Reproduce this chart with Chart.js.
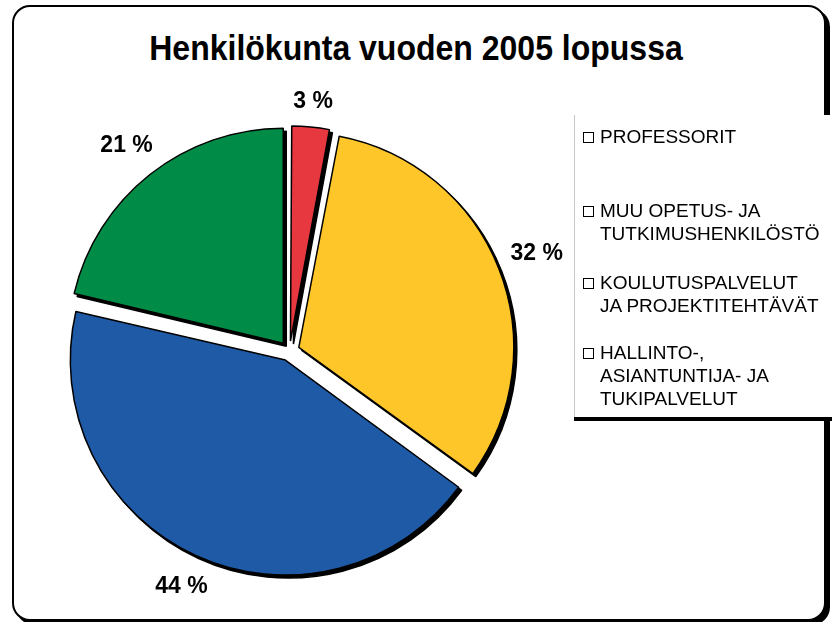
<!DOCTYPE html>
<html>
<head>
<meta charset="utf-8">
<script src="https://cdn.jsdelivr.net/npm/chart.js@4/dist/chart.umd.min.js"></script>
<style>
  html, body { margin:0; padding:0; background:#fff; width:832px; height:622px; overflow:hidden; }
  #frame { position:absolute; left:12px; top:5px; width:810px; height:612px; border:2px solid #000; border-radius:18px; box-shadow:4px 4px 0 #000; background:#fff; }
  #title { position:absolute; left:0; width:832px; top:30px; text-align:center; font:bold 32px "Liberation Sans", Arial, sans-serif; line-height:36px; color:#000; transform:scaleY(1.08); }
  #wrap { position:absolute; left:0; top:0; width:832px; height:622px; }
  #legend { position:absolute; left:574px; top:115px; width:270px; height:302px; background:#fff; border-left:1px solid #c8c8c8; box-shadow:0 4px 0 #000; }
  .item { position:absolute; left:8px; font:19px "Liberation Sans", Arial, sans-serif; line-height:23px; color:#000; }
  .item .box { position:absolute; left:0; top:7px; width:9px; height:9px; border:1px solid #000; background:#fff; }
  .item .txt { margin-left:17px; white-space:pre; }
</style>
</head>
<body>
<div id="frame"></div>
<div id="title"></div>
<div id="wrap"><canvas id="c"></canvas></div>
<div id="legend"></div>
<script>
const chartTitle = "Henkilökunta vuoden 2005 lopussa";
const categories = ["PROFESSORIT", "MUU OPETUS- JA\nTUTKIMUSHENKILÖSTÖ", "KOULUTUSPALVELUT\nJA PROJEKTITEHTÄVÄT", "HALLINTO-,\nASIANTUNTIJA- JA\nTUKIPALVELUT"];
const shares = [3.0, 32.0, 43.7, 21.3];
const colors = ["#E8383F", "#FFC629", "#1F5AA6", "#008C46"];

document.getElementById('title').textContent = chartTitle;

// legend (HTML, built from the categories)
const legendTops = [10, 84, 156, 226];
const lg = document.getElementById('legend');
categories.forEach((c, i) => {
  const d = document.createElement('div');
  d.className = 'item';
  d.style.top = legendTops[i] + 'px';
  const b = document.createElement('div'); b.className = 'box';
  const t = document.createElement('div'); t.className = 'txt'; t.textContent = c;
  d.appendChild(b); d.appendChild(t); lg.appendChild(d);
});

const shadowPlugin = {
  id: 'sliceShadow',
  beforeDatasetsDraw(chart) {
    const ctx = chart.ctx;
    const meta = chart.getDatasetMeta(0);
    const R = meta.controller.outerRadius;
    meta.data.forEach(el => {
      const circ = el.endAngle - el.startAngle;
      const fix = 1 - Math.sin(Math.min(Math.PI, circ));
      el.outerRadius = R - ((el.options.offset || 0) / 4) * fix;
    });
    meta.data.forEach(el => {
      const o = el.options;
      ctx.save();
      ctx.translate(3, 3);
      el.options = Object.assign({}, o, { backgroundColor: '#000', borderColor: '#000' });
      el.draw(ctx);
      el.options = o;
      ctx.restore();
    });
  }
};

const labelPlugin = {
  id: 'pctLabels',
  afterDatasetsDraw(chart) {
    const ctx = chart.ctx;
    const meta = chart.getDatasetMeta(0);
    const R = meta.controller.outerRadius;
    const ds = chart.data.datasets[0].data;
    ctx.save();
    ctx.font = 'bold 23px "Liberation Sans", Arial, sans-serif';
    meta.data.forEach((el, i) => {
      const txt = Math.round(ds[i]) + ' %';
      const hw = ctx.measureText(txt).width / 2;
      const hh = 12;
      const mid = (el.startAngle + el.endAngle) / 2;
      const extent = hw * Math.abs(Math.cos(mid)) + hh * Math.abs(Math.sin(mid));
      const d = R + 22 + extent;
      const x = el.x + Math.cos(mid) * d;
      const y = el.y + Math.sin(mid) * d;
      ctx.save();
      ctx.translate(x, y);
      ctx.scale(1, 1.08);
      ctx.fillStyle = '#000';
      ctx.textAlign = 'center';
      ctx.textBaseline = 'middle';
      ctx.fillText(txt, 0, 0);
      ctx.restore();
    });
    ctx.restore();
  }
};

new Chart(document.getElementById('c'), {
  type: 'pie',
  data: {
    labels: categories,
    datasets: [{
      data: shares,
      backgroundColor: colors,
      borderColor: '#000',
      borderWidth: 1.5,
      offset: 40
    }]
  },
  options: {
    responsive: true,
    maintainAspectRatio: false,
    animation: false,
    radius: 215,
    layout: { padding: { left: 0, right: 253, top: 100, bottom: 20 } },
    plugins: { legend: { display: false }, title: { display: false }, tooltip: { enabled: false } }
  },
  plugins: [shadowPlugin, labelPlugin]
});
</script>
</body>
</html>
